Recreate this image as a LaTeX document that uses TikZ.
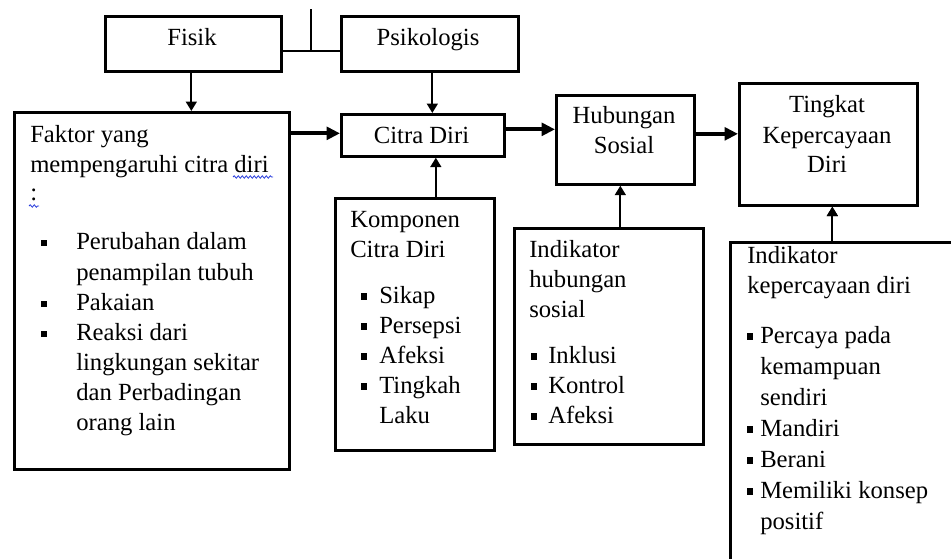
\documentclass[tikz,border=0pt]{standalone}
\usepackage{fontspec}
\setmainfont{Liberation Serif}
\usetikzlibrary{arrows.meta,decorations.pathmorphing,calc}
\definecolor{spellblue}{RGB}{40,60,220}
\begin{document}
\begin{tikzpicture}[x=0.75pt,y=-0.75pt,
  box/.style={draw,line width=2pt,rectangle,inner sep=0pt,anchor=north west},
  txt/.style={inner sep=0pt,font=\fontsize{18.5}{22.5}\selectfont,anchor=base west},
  ctxt/.style={txt,anchor=base},
  bul/.style={fill,rectangle,inner sep=0pt,minimum size=5pt},
  thinarrow/.style={line width=1.6pt,-{Triangle[length=7pt,width=8pt]}},
  thickarrow/.style={line width=3.2pt,-{Triangle[length=10pt,width=9.5pt]}},
  link/.style={line width=1.5pt},
  squiggle/.style={draw=spellblue,line width=0.6pt,decorate,decoration={snake,amplitude=0.9pt,segment length=3pt}}
]
\useasboundingbox (0,0) rectangle (951,558);
\clip (0,0) rectangle (951,558);

% boxes
\node[box,minimum width=132pt,minimum height=41.25pt] (fisik) at (104,15) {};
\node[box,minimum width=132.75pt,minimum height=41.25pt] (psiko) at (340,15) {};
\node[box,minimum width=122.25pt,minimum height=31.5pt] (citra) at (340,113) {};
\node[box,minimum width=103.5pt,minimum height=66.75pt] (hub) at (555,94) {};
\node[box,minimum width=133.5pt,minimum height=91.5pt] (tingkat) at (738,82) {};
\node[box,minimum width=206.25pt,minimum height=267.75pt] (faktor) at (13,111) {};
\node[box,minimum width=119.25pt,minimum height=189pt] (komp) at (334,197) {};
\node[box,minimum width=141.75pt,minimum height=162pt] (indhub) at (513,227) {};
\node[box,minimum width=180pt,minimum height=247.5pt] (indkep) at (729,241) {};

% centred titles
\node[ctxt] (tfisik) at (192,45) {Fisik};
\node[ctxt] (tpsiko) at (428,45) {Psikologis};
\node[ctxt] (tcitra) at (421.5,143) {Citra Diri};
\node[ctxt] (thub1) at (624,123) {Hubungan};
\node[ctxt] (thub2) at (624,153) {Sosial};
\node[ctxt] (tt1) at (827,112) {Tingkat};
\node[ctxt] (tt2) at (827,143) {Kepercayaan};
\node[ctxt] (tt3) at (827,172) {Diri};

% Faktor box
\foreach \yy/\s [count=\i] in {142/Faktor yang,172/mempengaruhi citra diri,200/{:}}
  \node[txt] (fa\i) at (30,\yy) {\s};
\foreach \yy [count=\i] in {249,310,340}
  \node[bul] (fb\i) at (44,\yy-6) {};
\foreach \yy/\s [count=\i] in {249/Perubahan dalam,280/penampilan tubuh,310/Pakaian,340/Reaksi dari,370/lingkungan sekitar,400/dan Perbadingan,430/orang lain}
  \node[txt] (fc\i) at (76,\yy) {\s};
\path[squiggle] (233,177) -- (273,177);
\path[squiggle] (29,206) -- (39,206);

% Komponen box
\foreach \yy/\s [count=\i] in {227/Komponen,257/Citra Diri}
  \node[txt] (ka\i) at (350,\yy) {\s};
\foreach \yy [count=\i] in {303,333,363,393}
  \node[bul] (kb\i) at (364,\yy-6.5) {};
\foreach \yy/\s [count=\i] in {303/Sikap,333/Persepsi,363/Afeksi,393/Tingkah,423/Laku}
  \node[txt] (kc\i) at (379,\yy) {\s};

% Indikator hubungan sosial
\foreach \yy/\s [count=\i] in {257/Indikator,287/hubungan,317/sosial}
  \node[txt] (ha\i) at (529,\yy) {\s};
\foreach \yy [count=\i] in {363,393,423}
  \node[bul] (hb\i) at (534,\yy-6.5) {};
\foreach \yy/\s [count=\i] in {363/Inklusi,393/Kontrol,423/Afeksi}
  \node[txt] (hc\i) at (548,\yy) {\s};

% Indikator kepercayaan diri
\foreach \yy/\s [count=\i] in {263/Indikator,293/kepercayaan diri}
  \node[txt] (pa\i) at (747,\yy) {\s};
\foreach \yy [count=\i] in {343,436,467,498}
  \node[bul] (pb\i) at (750,\yy-6.5) {};
\foreach \yy/\s [count=\i] in {343/Percaya pada,374/kemampuan,405/sendiri,436/Mandiri,467/Berani,498/Memiliki konsep,529/positif}
  \node[txt] (pc\i) at (760,\yy) {\s};

% top connector
\coordinate (top) at (311,9);
\coordinate (junc) at (311,51);
\draw[link] (top) -- (junc);
\draw[link] (fisik.east |- junc) -- (psiko.west |- junc);

% thin arrows
\draw[thinarrow] ($(fisik.south)+(-2,0)$) coordinate (f1) -- (f1 |- faktor.north);
\draw[thinarrow] ($(psiko.south)+(2.5,0)$) coordinate (p1) -- (p1 |- citra.north);
\draw[thinarrow] ($(komp.north)+(21,0)$) coordinate (k1) -- (k1 |- citra.south);
\draw[thinarrow] ($(indhub.north)+(11.5,0)$) coordinate (h1) -- (h1 |- hub.south);
\draw[thinarrow] ($(tingkat.south)+(4,0)$) coordinate (t1);
\draw[thinarrow] (t1 |- indkep.north) -- (t1);

% thick arrows
\draw[thickarrow] ($(citra.west)+(0,-2)$) coordinate (c0) (faktor.east |- c0) -- (c0);
\draw[thickarrow] ($(citra.east)+(0,-6)$) coordinate (c1) -- (c1 -| hub.west);
\draw[thickarrow] ($(hub.east)+(0,-6)$) coordinate (c2) -- (c2 -| tingkat.west);
\end{tikzpicture}
\end{document}
